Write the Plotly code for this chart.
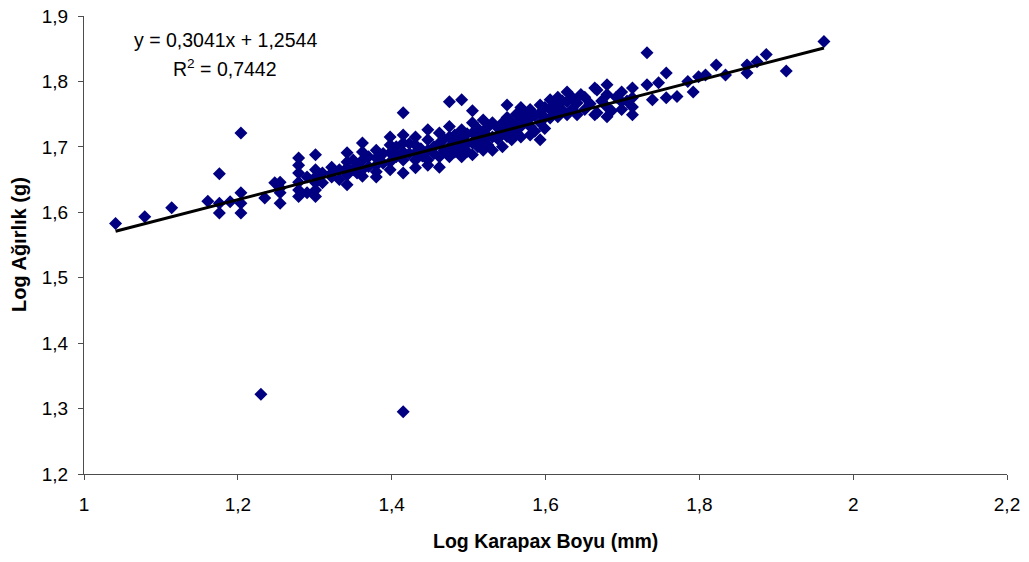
import plotly.graph_objects as go

# Log carapace length (x) and log weight (y)
log_karapax = [
    1.041, 1.079, 1.114, 1.161, 1.176, 1.176, 1.176, 1.190, 1.204, 1.204, 1.204, 1.204,
    1.230, 1.235, 1.248, 1.255, 1.255, 1.255, 1.255,
    1.279, 1.279, 1.279, 1.279, 1.279, 1.279,
    1.290, 1.290,
    1.301, 1.301, 1.301, 1.301, 1.301, 1.301,
    1.310, 1.310,
    1.322, 1.322, 1.322,
    1.332, 1.332,
    1.342, 1.342, 1.342, 1.342, 1.342,
    1.350, 1.350,
    1.355, 1.355,
    1.362, 1.362, 1.362, 1.362, 1.362,
    1.370, 1.370,
    1.380, 1.380, 1.380, 1.380, 1.380,
    1.389, 1.389,
    1.398, 1.398, 1.398, 1.398, 1.398,
    1.406, 1.406,
    1.415, 1.415, 1.415, 1.415, 1.415, 1.415, 1.415,
    1.423, 1.423,
    1.431, 1.431, 1.431, 1.431, 1.431,
    1.438, 1.440,
    1.447, 1.447, 1.447, 1.447, 1.447,
    1.455, 1.455,
    1.462, 1.462, 1.462, 1.462,
    1.468, 1.468,
    1.475, 1.475, 1.475, 1.475, 1.475,
    1.482, 1.482, 1.482,
    1.491, 1.491, 1.491, 1.491, 1.491,
    1.498, 1.498, 1.498,
    1.505, 1.505, 1.505, 1.505, 1.505,
    1.512, 1.512, 1.512,
    1.519, 1.519, 1.519, 1.519,
    1.525, 1.525, 1.525,
    1.531, 1.531, 1.531,
    1.538, 1.538,
    1.544, 1.544, 1.544,
    1.550, 1.550, 1.550, 1.550,
    1.556, 1.556, 1.556,
    1.562, 1.562, 1.562,
    1.568, 1.568, 1.568, 1.568,
    1.574, 1.574,
    1.580, 1.580, 1.580, 1.580,
    1.586, 1.586,
    1.593, 1.593, 1.593, 1.593,
    1.599, 1.599, 1.599,
    1.606, 1.606, 1.606,
    1.611, 1.611,
    1.616, 1.616, 1.616,
    1.622, 1.622,
    1.628, 1.628, 1.628,
    1.635, 1.635,
    1.641, 1.641,
    1.646,
    1.651, 1.651,
    1.658,
    1.664, 1.664,
    1.667, 1.667,
    1.673,
    1.680, 1.680, 1.680, 1.680,
    1.686,
    1.692,
    1.699, 1.699, 1.699,
    1.706,
    1.713, 1.713, 1.713, 1.713,
    1.732, 1.732,
    1.739,
    1.747,
    1.757, 1.757,
    1.771,
    1.785,
    1.792,
    1.799,
    1.808,
    1.822,
    1.834,
    1.862, 1.862,
    1.875,
    1.887,
    1.913,
    1.962,
]

log_agirlik = [
    1.583, 1.593, 1.607, 1.617, 1.659, 1.614, 1.599, 1.616, 1.721, 1.630, 1.614, 1.599,
    1.322, 1.622, 1.645, 1.646, 1.637, 1.630, 1.614,
    1.683, 1.672, 1.660, 1.646, 1.634, 1.624,
    1.654, 1.630,
    1.688, 1.665, 1.654, 1.645, 1.634, 1.624,
    1.660, 1.645,
    1.669, 1.654, 1.660,
    1.665, 1.650,
    1.691, 1.677, 1.668, 1.657, 1.642,
    1.680, 1.665,
    1.672, 1.660,
    1.706, 1.692, 1.680, 1.665, 1.655,
    1.685, 1.670,
    1.695, 1.683, 1.672, 1.662, 1.654,
    1.690, 1.675,
    1.715, 1.703, 1.691, 1.677, 1.665,
    1.700, 1.685,
    1.752, 1.718, 1.706, 1.692, 1.680, 1.660, 1.295,
    1.705, 1.690,
    1.715, 1.703, 1.691, 1.680, 1.668,
    1.697, 1.686,
    1.726, 1.711, 1.695, 1.680, 1.672,
    1.700, 1.690,
    1.721, 1.706, 1.685, 1.669,
    1.712, 1.695,
    1.769, 1.731, 1.715, 1.700, 1.685,
    1.718, 1.705, 1.692,
    1.772, 1.726, 1.711, 1.698, 1.685,
    1.720, 1.705, 1.693,
    1.755, 1.737, 1.721, 1.706, 1.688,
    1.728, 1.714, 1.700,
    1.741, 1.723, 1.708, 1.695,
    1.730, 1.716, 1.703,
    1.737, 1.715, 1.695,
    1.729, 1.712,
    1.737, 1.721, 1.700,
    1.764, 1.745, 1.730, 1.716,
    1.738, 1.726, 1.711,
    1.750, 1.735, 1.722,
    1.760, 1.744, 1.731, 1.715,
    1.752, 1.738,
    1.757, 1.744, 1.731, 1.718,
    1.748, 1.724,
    1.764, 1.752, 1.737, 1.711,
    1.760, 1.745, 1.728,
    1.772, 1.757, 1.744,
    1.765, 1.752,
    1.776, 1.761, 1.746,
    1.770, 1.756,
    1.784, 1.769, 1.749,
    1.775, 1.758,
    1.767, 1.749,
    1.780,
    1.776, 1.757,
    1.766,
    1.790, 1.749,
    1.787, 1.752,
    1.770,
    1.795, 1.780, 1.761, 1.746,
    1.755,
    1.776,
    1.784, 1.769, 1.757,
    1.770,
    1.790, 1.775, 1.761, 1.749,
    1.844, 1.795,
    1.772,
    1.798,
    1.813, 1.775,
    1.777,
    1.800,
    1.784,
    1.807,
    1.810,
    1.825,
    1.810,
    1.825, 1.813,
    1.830,
    1.841,
    1.816,
    1.861,
]

# Trendline coefficients as printed on the chart
slope = 0.3041
intercept = 1.2544
r_squared = 0.7442

x_ticks = [1, 1.2, 1.4, 1.6, 1.8, 2, 2.2]
y_ticks = [1.2, 1.3, 1.4, 1.5, 1.6, 1.7, 1.8, 1.9]

FONT = "Liberation Sans, Arial, sans-serif"
AXIS_COLOR = "#4d4d4d"

# The page body adds an 8px offset; margins are given in figure coordinates
OFF = 8
W, H = 1029, 562
ML, MR, MT, MB = 84 - OFF, 30, 16 - OFF, 96
PW, PH = W - ML - MR, H - MT - MB

x_line = [min(log_karapax), max(log_karapax)]
y_line = [slope * v + intercept for v in x_line]

fig = go.Figure()
fig.add_trace(go.Scatter(
    x=log_karapax, y=log_agirlik, mode="markers",
    marker=dict(symbol="diamond", size=10, color="#000080", line=dict(width=0)),
    showlegend=False, hoverinfo="x+y",
))
fig.add_trace(go.Scatter(
    x=x_line, y=y_line, mode="lines",
    line=dict(color="black", width=3),
    showlegend=False, hoverinfo="skip",
))


def fmt(v):
    return f"{v:.4f}".replace(".", ",")


def px(xp):
    """page pixel x -> paper coordinate"""
    return (xp - OFF - ML) / PW


def py(yp):
    """page pixel y -> paper coordinate"""
    return 1 - (yp - OFF - MT) / PH


fig.update_layout(
    width=W, height=H,
    margin=dict(l=ML, r=MR, t=MT, b=MB, autoexpand=False),
    paper_bgcolor="white", plot_bgcolor="white",
    separators=",.",
    font=dict(family=FONT, size=19, color="black"),
    xaxis=dict(
        range=[1, 2.2], tickvals=x_ticks, showgrid=False, zeroline=False,
        showline=True, linecolor=AXIS_COLOR, linewidth=1,
        ticks="outside", ticklen=5, tickcolor=AXIS_COLOR,
        tickfont=dict(size=19), automargin=False, ticklabelstandoff=8,
        ticklabeloverflow="allow",
    ),
    yaxis=dict(
        range=[1.2, 1.9], tickvals=y_ticks, showgrid=False, zeroline=False,
        showline=True, linecolor=AXIS_COLOR, linewidth=1,
        ticks="outside", ticklen=5, tickcolor=AXIS_COLOR,
        tickfont=dict(size=19), automargin=False, ticklabelstandoff=6,
        ticklabeloverflow="allow",
    ),
)

# Axis titles
fig.add_annotation(
    x=px(545), y=py(541), xref="paper", yref="paper", showarrow=False,
    xanchor="center", yanchor="middle",
    text="<b>Log Karapax Boyu (mm)</b>", font=dict(family=FONT, size=19.5),
)
fig.add_annotation(
    x=px(19), y=py(245), xref="paper", yref="paper", showarrow=False,
    xanchor="center", yanchor="middle", textangle=-90,
    text="<b>Log Ağırlık (g)</b>", font=dict(family=FONT, size=20),
)

# Equation and R² labels
fig.add_annotation(
    x=px(225), y=py(40), xref="paper", yref="paper",
    showarrow=False, xanchor="center", yanchor="middle",
    text=f"y = {fmt(slope)}x + {fmt(intercept)}",
    font=dict(family=FONT, size=19.5, color="black"),
)
fig.add_annotation(
    x=px(225), y=py(68), xref="paper", yref="paper",
    showarrow=False, xanchor="center", yanchor="middle",
    text=f"R<sup>2</sup> = {fmt(r_squared)}",
    font=dict(family=FONT, size=19.5, color="black"),
)

fig.write_html("out.html")
